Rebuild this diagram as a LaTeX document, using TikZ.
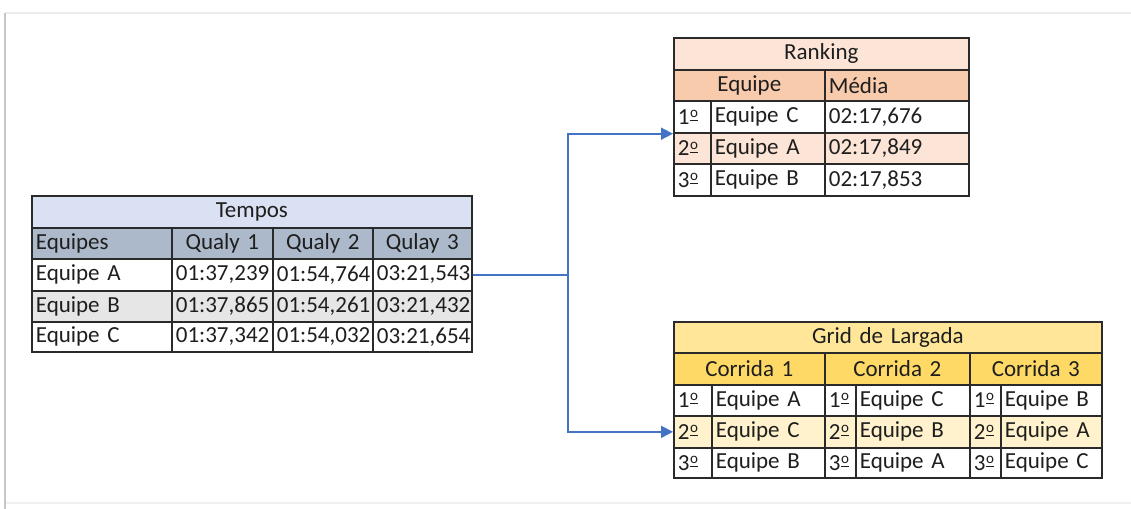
\documentclass[tikz,border=0pt]{standalone}
\usepackage{fontspec}
\setmainfont{Carlito}
\usetikzlibrary{arrows.meta}

\definecolor{gridline}{HTML}{2A2A2A}
\definecolor{inktext}{HTML}{1E1E1E}
\definecolor{linkblue}{HTML}{4472C4}
\definecolor{tmpTitle}{HTML}{D9E1F2}
\definecolor{tmpHead}{HTML}{ACB9CA}
\definecolor{tmpAlt}{HTML}{E7E6E6}
\definecolor{rnkTitle}{HTML}{FCE4D6}
\definecolor{rnkHead}{HTML}{F8CBAD}
\definecolor{rnkAlt}{HTML}{FCE4D6}
\definecolor{grdTitle}{HTML}{FFE699}
\definecolor{grdHead}{HTML}{FFD966}
\definecolor{grdAlt}{HTML}{FFF2CC}

\tikzset{
  tcellst/.style={rectangle, draw=gridline, line width=0.85pt, inner xsep=2pt,
    inner ysep=0pt, text=inktext, align=left,
    font=\fontsize{11.5}{13}\selectfont},
  mid/.style={align=center},
  conn/.style={draw=linkblue, line width=0.8pt,
    -{Triangle[length=6pt,width=6pt]}},
  plain/.style={draw=linkblue, line width=0.8pt}
}

% ordinal with an underlined superior o
\newcommand\ordn[1]{#1\kern0.3pt\raisebox{0.62ex}{\fontsize{7.5}{8}\selectfont\underline{o}}}

% cell: name, x1, y1, x2, y2, extra style, text   (pixel grid, y downwards)
\newcommand\tcell[7]{%
  \pgfmathsetlengthmacro\cellw{(#4-#2)*0.5pt}%
  \pgfmathsetlengthmacro\cellh{(#5-#3)*0.5pt}%
  \pgfmathsetlengthmacro\celltw{(#4-#2)*0.5pt-4pt}%
  \node[tcellst,#6,anchor=north west,minimum width=\cellw,
    minimum height=\cellh,text width=\celltw] (#1) at (#2,#3) {#7};}

\begin{document}
\begin{tikzpicture}[x=0.5pt,y=-0.5pt]
\useasboundingbox (0,0) rectangle (1131,509);

% page frame
\draw[black!8, line width=1pt] (5,13) -- (1131,13);
\draw[black!6, line width=1pt] (5,503) -- (1131,503);
\draw[black!22, line width=1.2pt] (5,13) -- (5,509);

% ---- Tempos ----
\tcell{tt}{31}{195}{471}{227}{fill=tmpTitle,mid}{Tempos}
\tcell{th0}{31}{227}{171}{258}{fill=tmpHead}{Equipes}
\tcell{th1}{171}{227}{272}{258}{fill=tmpHead,mid}{Qualy 1}
\tcell{th2}{272}{227}{372}{258}{fill=tmpHead,mid}{Qualy 2}
\tcell{th3}{372}{227}{471}{258}{fill=tmpHead,mid}{Qulay 3}
\tcell{ta0}{31}{258}{171}{290}{fill=white}{Equipe A}
\tcell{ta1}{171}{258}{272}{290}{fill=white}{01:37,239}
\tcell{ta2}{272}{258}{372}{290}{fill=white}{01:54,764}
\tcell{ta3}{372}{258}{471}{290}{fill=white}{03:21,543}
\tcell{tb0}{31}{290}{171}{321}{fill=tmpAlt}{Equipe B}
\tcell{tb1}{171}{290}{272}{321}{fill=tmpAlt}{01:37,865}
\tcell{tb2}{272}{290}{372}{321}{fill=tmpAlt}{01:54,261}
\tcell{tb3}{372}{290}{471}{321}{fill=tmpAlt}{03:21,432}
\tcell{tc0}{31}{321}{171}{351}{fill=white}{Equipe C}
\tcell{tc1}{171}{321}{272}{351}{fill=white}{01:37,342}
\tcell{tc2}{272}{321}{372}{351}{fill=white}{01:54,032}
\tcell{tc3}{372}{321}{471}{351}{fill=white}{03:21,654}

% ---- Ranking ----
\tcell{rt}{673}{37}{968}{69}{fill=rnkTitle,mid}{Ranking}
\tcell{rh0}{673}{69}{824}{100}{fill=rnkHead,mid}{Equipe}
\tcell{rh1}{824}{69}{968}{100}{fill=rnkHead}{Média}
\tcell{r10}{673}{100}{710}{132}{fill=white}{\ordn{1}}
\tcell{r11}{710}{100}{824}{132}{fill=white}{Equipe C}
\tcell{r12}{824}{100}{968}{132}{fill=white}{02:17,676}
\tcell{r20}{673}{132}{710}{163}{fill=rnkAlt}{\ordn{2}}
\tcell{r21}{710}{132}{824}{163}{fill=rnkAlt}{Equipe A}
\tcell{r22}{824}{132}{968}{163}{fill=rnkAlt}{02:17,849}
\tcell{r30}{673}{163}{710}{195}{fill=white}{\ordn{3}}
\tcell{r31}{710}{163}{824}{195}{fill=white}{Equipe B}
\tcell{r32}{824}{163}{968}{195}{fill=white}{02:17,853}

% ---- Grid de Largada ----
\tcell{gt}{673}{321}{1101}{352}{fill=grdTitle,mid}{Grid de Largada}
\tcell{gh1}{673}{352}{824}{384}{fill=grdHead,mid}{Corrida 1}
\tcell{gh2}{824}{352}{969}{384}{fill=grdHead,mid}{Corrida 2}
\tcell{gh3}{969}{352}{1101}{384}{fill=grdHead,mid}{Corrida 3}
% first place
\tcell{g1a}{673}{384}{711}{415}{fill=white}{\ordn{1}}
\tcell{g1b}{711}{384}{824}{415}{fill=white}{Equipe A}
\tcell{g1c}{824}{384}{855}{415}{fill=white}{\ordn{1}}
\tcell{g1d}{855}{384}{969}{415}{fill=white}{Equipe C}
\tcell{g1e}{969}{384}{1000}{415}{fill=white}{\ordn{1}}
\tcell{g1f}{1000}{384}{1101}{415}{fill=white}{Equipe B}
% second place
\tcell{g2a}{673}{415}{711}{447}{fill=grdAlt}{\ordn{2}}
\tcell{g2b}{711}{415}{824}{447}{fill=grdAlt}{Equipe C}
\tcell{g2c}{824}{415}{855}{447}{fill=grdAlt}{\ordn{2}}
\tcell{g2d}{855}{415}{969}{447}{fill=grdAlt}{Equipe B}
\tcell{g2e}{969}{415}{1000}{447}{fill=grdAlt}{\ordn{2}}
\tcell{g2f}{1000}{415}{1101}{447}{fill=grdAlt}{Equipe A}
% third place
\tcell{g3a}{673}{447}{711}{477}{fill=white}{\ordn{3}}
\tcell{g3b}{711}{447}{824}{477}{fill=white}{Equipe B}
\tcell{g3c}{824}{447}{855}{477}{fill=white}{\ordn{3}}
\tcell{g3d}{855}{447}{969}{477}{fill=white}{Equipe A}
\tcell{g3e}{969}{447}{1000}{477}{fill=white}{\ordn{3}}
\tcell{g3f}{1000}{447}{1101}{477}{fill=white}{Equipe C}

% ---- connectors ----
\coordinate (jx) at (568,0);
\coordinate (jn) at (ta3.east -| jx);
\draw[plain] (ta3.east) -- (jn);
\draw[conn] (jn) |- (r10.south west);
\draw[conn] (jn) |- (g2a.west);
\end{tikzpicture}
\end{document}
